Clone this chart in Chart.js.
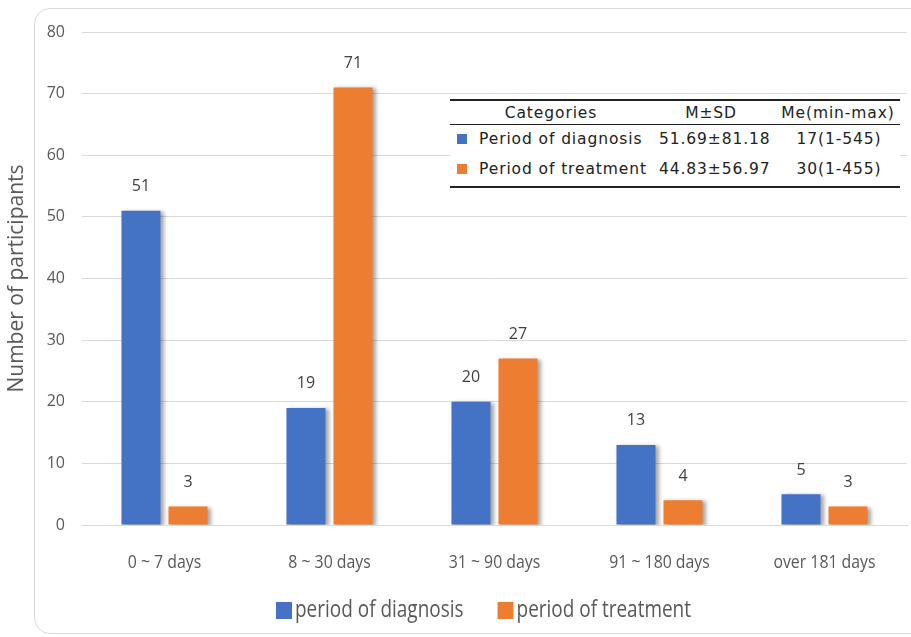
<!DOCTYPE html>
<html>
<head>
<meta charset="utf-8">
<script src="https://cdn.jsdelivr.net/npm/chart.js@4/dist/chart.umd.min.js"></script>
<style>
  html, body { margin: 0; padding: 0; background: #fff; }
  #wrap { position: relative; width: 911px; height: 637px; overflow: hidden; background: #fff; }
  #frame { position: absolute; left: 34px; top: 8px; width: 900px; height: 626px;
           border: 1px solid #d9d9d9; border-radius: 16px; box-sizing: border-box; }
  #chart { position: absolute; left: 0; top: 0; }
  #stats { position: absolute; left: 450px; top: 99px; width: 450px; height: 90px; background: #fff;
           font-family: "DejaVu Sans", sans-serif; font-size: 15.5px; color: #222; letter-spacing: 0.9px; }
  #stats .rule { position: absolute; left: 0; right: 0; background: #222; }
  #stats span { position: absolute; white-space: nowrap; line-height: 18px; }
  #stats .sw { width: 10px; height: 10px; position: absolute; }
</style>
</head>
<body>
<div id="wrap">
  <div id="frame"></div>
  <canvas id="chart" width="911" height="637"></canvas>
  <div id="stats"></div>
</div>
<script>
// Duration groups and participant counts
const categories = ["0 ~ 7 days", "8 ~ 30 days", "31 ~ 90 days", "91 ~ 180 days", "over 181 days"];
const diagnosisCounts = [51, 19, 20, 13, 5];
const treatmentCounts = [3, 71, 27, 4, 3];
const seriesNames = ["period of diagnosis", "period of treatment"];
const yTicks = [0, 10, 20, 30, 40, 50, 60, 70, 80];

// Summary statistics table
const statHeaders = ["Categories", "M±SD", "Me(min-max)"];
const statRows = [
  ["Period of diagnosis", "51.69±81.18", "17(1-545)"],
  ["Period of treatment", "44.83±56.97", "30(1-455)"]
];

const BLUE = "#4472C4";
const ORANGE = "#ED7D31";
const TEXT = "#595959";
const SANS = "'Open Sans', sans-serif";

// Soft drop shadow behind the bars
const barShadow = {
  id: "barShadow",
  beforeDatasetsDraw(chart) {
    const ctx = chart.ctx;
    ctx.save();
    ctx.shadowColor = "rgba(0,0,0,0.35)";
    ctx.shadowBlur = 4;
    ctx.shadowOffsetX = 3;
    ctx.shadowOffsetY = 1;
  },
  afterDatasetsDraw(chart) {
    chart.ctx.restore();
  }
};

// Value labels above each bar
const valueLabels = {
  id: "valueLabels",
  afterDatasetsDraw(chart) {
    const ctx = chart.ctx;
    ctx.save();
    ctx.font = "16px " + SANS;
    ctx.fillStyle = "#404040";
    ctx.textAlign = "center";
    ctx.textBaseline = "middle";
    chart.data.datasets.forEach((ds, i) => {
      chart.getDatasetMeta(i).data.forEach((bar, j) => {
        ctx.fillText(String(ds.data[j]), bar.x, bar.y - 24);
      });
    });
    ctx.restore();
  }
};

// Horizontally squeezed text, used for the category labels and legend
function narrowText(ctx, str, x, y, squeeze, align) {
  ctx.save();
  ctx.translate(x, y);
  ctx.scale(squeeze, 1);
  ctx.textAlign = align;
  ctx.fillText(str, 0, 0);
  ctx.restore();
}

const narrowLabels = {
  id: "narrowLabels",
  afterDraw(chart) {
    const ctx = chart.ctx;
    const xs = chart.scales.x;
    ctx.save();
    ctx.fillStyle = TEXT;
    ctx.textBaseline = "middle";
    ctx.font = "18px " + SANS;
    chart.data.labels.forEach((lab, i) => {
      narrowText(ctx, lab, xs.getPixelForValue(i), xs.top + 38, 0.88, "center");
    });

    // legend: colour box followed by series name, centred as a row
    ctx.font = "24px " + SANS;
    const squeeze = 0.79, box = 16, gapBox = 3, gapItem = 34;
    const items = chart.data.datasets.map(ds => ({
      text: ds.label, color: ds.backgroundColor,
      w: ctx.measureText(ds.label).width * squeeze
    }));
    const total = items.reduce((s, it) => s + box + gapBox + it.w, 0) + gapItem * (items.length - 1);
    let x = (chart.chartArea.left + chart.chartArea.right) / 2 - total / 2 - 11;
    const y = 610;
    items.forEach(it => {
      ctx.fillStyle = it.color;
      ctx.fillRect(x, y - 8, box, 17);
      ctx.fillStyle = TEXT;
      narrowText(ctx, it.text, x + box + gapBox, y, squeeze, "left");
      x += box + gapBox + it.w + gapItem;
    });
    ctx.restore();
  }
};

new Chart(document.getElementById("chart"), {
  type: "bar",
  data: {
    labels: categories,
    datasets: [
      { label: seriesNames[0], data: diagnosisCounts, backgroundColor: BLUE },
      { label: seriesNames[1], data: treatmentCounts, backgroundColor: ORANGE }
    ]
  },
  options: {
    responsive: false,
    animation: false,
    devicePixelRatio: 1,
    layout: { padding: { left: 0, right: 4, top: 32, bottom: 54 } },
    datasets: { bar: { barPercentage: 0.83, categoryPercentage: 0.57 } },
    scales: {
      x: {
        grid: { display: false, drawTicks: false },
        border: { display: true, color: "#d9d9d9", width: 1 },
        ticks: { display: false },
        afterFit(scale) { scale.height = 58; }
      },
      y: {
        min: 0, max: 80,
        afterBuildTicks(scale) { scale.ticks = yTicks.map(v => ({ value: v })); },
        grid: { color: "#d9d9d9", drawTicks: false },
        border: { display: false },
        ticks: { color: TEXT, padding: 17, font: { family: SANS, size: 16 } },
        title: {
          display: true, text: "Number of participants", color: TEXT,
          font: { family: SANS, size: 21 }, padding: { top: 4, bottom: 2 }
        },
        afterFit(scale) { scale.width = 82; }
      }
    },
    plugins: {
      legend: { display: false },
      tooltip: { enabled: false }
    }
  },
  plugins: [barShadow, valueLabels, narrowLabels]
});

// Statistics table in the upper-right corner
(function buildStats() {
  const box = document.getElementById("stats");
  const rule = (top, h) => {
    const d = document.createElement("div");
    d.className = "rule"; d.style.top = top + "px"; d.style.height = h + "px";
    box.appendChild(d);
  };
  const text = (str, x, y, align) => {
    const s = document.createElement("span");
    s.textContent = str;
    s.style.top = (y - 9) + "px";
    s.style.left = x + "px";
    if (align === "center") s.style.transform = "translateX(-50%)";
    box.appendChild(s);
  };
  rule(0, 2); rule(25, 1); rule(87, 2);
  text(statHeaders[0], 101, 14, "center");
  text(statHeaders[1], 261, 14, "center");
  text(statHeaders[2], 388, 14, "center");
  const colors = [BLUE, ORANGE];
  statRows.forEach((r, i) => {
    const y = 40 + i * 30;
    const sw = document.createElement("div");
    sw.className = "sw"; sw.style.left = "7px"; sw.style.top = (y - 5) + "px"; sw.style.background = colors[i];
    box.appendChild(sw);
    text(r[0], 29, y, "left");
    text(r[1], 209, y, "left");
    text(r[2], 389, y, "center");
  });
})();
</script>
</body>
</html>
